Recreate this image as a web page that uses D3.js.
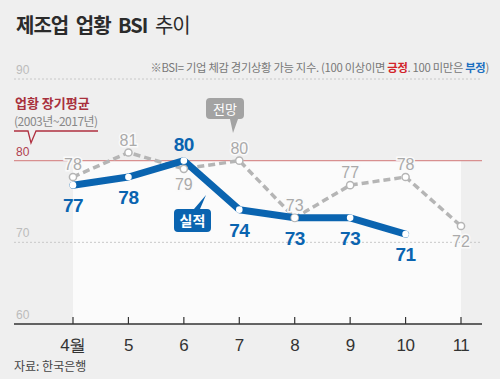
<!DOCTYPE html>
<html><head><meta charset="utf-8">
<script src="https://cdn.jsdelivr.net/npm/d3@7"></script>
<style>body{margin:0;background:#efefef;}svg{display:block;font-family:"Noto Sans CJK KR","Noto Sans",sans-serif;}</style>
</head><body><svg id="c" width="500" height="379"></svg>
<script>
const months = ["4월","5","6","7","8","9","10","11"];
const actual = [77,78,80,74,73,73,71];
const forecast = [78,81,79,80,73,77,78,72];
const yTicks = [90,80,70,60];
const longAvg = 80;

const svg = d3.select("#c");
svg.append("rect").attr("width",500).attr("height",379).attr("fill","#efefef");
const x = d3.scalePoint().domain(months).range([73,461]);
const y = d3.scaleLinear().domain([60,90]).range([324,79]);

// white plot area below average line
svg.append("rect").attr("x",x(months[0])).attr("y",y(longAvg)).attr("width",x(months[7])-x(months[0])).attr("height",y(60)-y(longAvg)).attr("fill","#fbfbfb");

// title
const t = svg.append("text").attr("x",16).attr("y",33).attr("font-size",20).attr("fill","#2b2b2b").attr("letter-spacing","-1").attr("word-spacing","4");
t.append("tspan").attr("font-weight","bold").text("제조업 업황 BSI ");
t.append("tspan").attr("font-weight","normal").text("추이");

// note
const n = svg.append("text").attr("x",489).attr("y",72).attr("text-anchor","end").attr("font-size",11.3).attr("fill","#777").attr("letter-spacing","-0.3");
n.append("tspan").text("※BSI= 기업 체감 경기상황 가능 지수. (100 이상이면 ");
n.append("tspan").attr("fill","#d2232a").attr("font-weight","bold").text("긍정");
n.append("tspan").text(". 100 미만은 ");
n.append("tspan").attr("fill","#1b6fc0").attr("font-weight","bold").text("부정");
n.append("tspan").text(")");

// gridlines
[90,70].forEach(v=>{
  svg.append("line").attr("x1",14).attr("x2",482).attr("y1",y(v)).attr("y2",y(v)).attr("stroke","#c8c8c8").attr("stroke-width",1).attr("stroke-dasharray","2,2");
});
svg.append("line").attr("x1",14).attr("x2",482).attr("y1",y(longAvg)).attr("y2",y(longAvg)).attr("stroke","#d89090").attr("stroke-width",1.2);

// y labels
yTicks.forEach(v=>{
  svg.append("text").attr("x",16).attr("y",y(v)-5).attr("font-size",12).attr("font-family","Liberation Sans, Arial, sans-serif")
    .attr("fill", v===longAvg ? "#b04050" : "#bcbcbc").text(v);
});

// long average annotation
svg.append("text").attr("x",15).attr("y",108).attr("font-size",13).attr("font-weight","bold").attr("fill","#a8303c").text("업황 장기평균");
svg.append("text").attr("x",14).attr("y",126).attr("font-size",12).attr("fill","#888").attr("letter-spacing","-0.5").text("(2003년~2017년)");
svg.append("path").attr("d","M14,131 L28,131 L31,143 L36,131 L98,131").attr("fill","none").attr("stroke","#b03040").attr("stroke-width",1.3);

// x axis
svg.append("line").attr("x1",14).attr("x2",482).attr("y1",324).attr("y2",324).attr("stroke","#333").attr("stroke-width",1.5);
months.forEach(m=>{
  svg.append("line").attr("x1",x(m)).attr("x2",x(m)).attr("y1",317).attr("y2",324).attr("stroke","#333").attr("stroke-width",1.2);
  svg.append("text").attr("x",x(m)).attr("y",351).attr("text-anchor","middle").attr("font-size",17).attr("fill","#333")
    .attr("font-family","Liberation Sans, Arial, sans-serif").attr("letter-spacing","-0.5").text(m);
});
svg.append("text").attr("x",14).attr("y",371).attr("font-size",12).attr("fill","#444").text("자료: 한국은행");

// forecast line
const line = d3.line().x((d,i)=>x(months[i])).y(d=>y(d));
svg.append("path").datum(forecast).attr("d",line).attr("fill","none").attr("stroke","#b5b5b5").attr("stroke-width",3.5).attr("stroke-dasharray","7,4");
// actual line
svg.append("path").datum(actual).attr("d",line).attr("fill","none").attr("stroke","#0a64b0").attr("stroke-width",7).attr("stroke-linejoin","round").attr("stroke-linecap","round");

forecast.forEach((v,i)=>{
  svg.append("circle").attr("cx",x(months[i])).attr("cy",y(v)).attr("r",3.6).attr("fill","#fff").attr("stroke","#b5b5b5").attr("stroke-width",1.5);
});
actual.forEach((v,i)=>{
  svg.append("circle").attr("cx",x(months[i])).attr("cy",y(v)).attr("r",3.3).attr("fill","#fff");
});

// forecast labels: above (-1) or below (+1)
const fPos = [-1,-1,1,-1,-1,-1,-1,1];
forecast.forEach((v,i)=>{
  svg.append("text").attr("x",x(months[i])).attr("y", fPos[i]<0 ? y(v)-7 : y(v)+21).attr("text-anchor","middle")
    .attr("font-size",16).attr("font-family","Liberation Sans, Arial, sans-serif").attr("fill","#aaa")
    .attr("stroke","#fafafa").attr("stroke-width",3).attr("paint-order","stroke").text(v);
});
const aPos = [1,1,-1,1,1,1,1];
actual.forEach((v,i)=>{
  svg.append("text").attr("x",x(months[i])).attr("y", aPos[i]<0 ? y(v)-10 : y(v)+27).attr("text-anchor","middle")
    .attr("font-size",19).attr("font-weight","bold").attr("font-family","Liberation Sans, Arial, sans-serif").attr("fill","#0a64b0")
    .attr("letter-spacing","-0.5").text(v);
});

// callouts
svg.append("path").attr("d","M210,98 h30 a4,4 0 0 1 4,4 v13 a4,4 0 0 1 -4,4 h-2 l-5,14 l-3,-14 h-20 a4,4 0 0 1 -4,-4 v-13 a4,4 0 0 1 4,-4 z").attr("fill","#a3a3a3");
svg.append("text").attr("x",225).attr("y",114).attr("text-anchor","middle").attr("font-size",13).attr("fill","#fff").text("전망");
svg.append("path").attr("d","M178,209 h29 a4,4 0 0 1 4,4 v15 a4,4 0 0 1 -4,4 h-29 a4,4 0 0 1 -4,-4 v-15 a4,4 0 0 1 4,-4 h16 l12,-14 l-6,14 z").attr("fill","#0a64b0");
svg.append("text").attr("x",192.5).attr("y",226).attr("text-anchor","middle").attr("font-size",14).attr("font-weight","bold").attr("fill","#fff").text("실적");
</script></body></html>
